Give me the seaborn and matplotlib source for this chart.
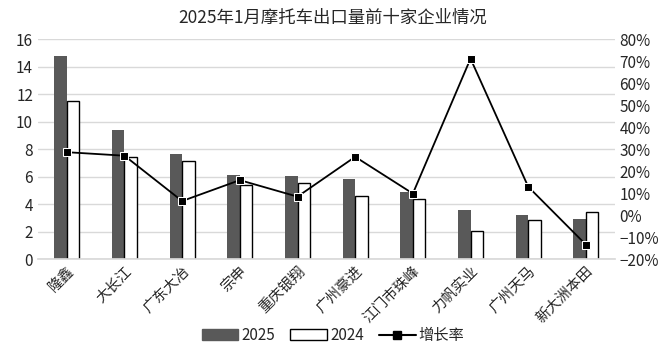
import matplotlib
matplotlib.use("Agg")
import matplotlib.pyplot as plt
from matplotlib.lines import Line2D
from matplotlib.patches import Patch
from matplotlib.ticker import PercentFormatter
import numpy as np
import pandas as pd
import seaborn as sns

# Datos
empresas = ["隆鑫", "大长江", "广东大冶", "宗申", "重庆银翔",
            "广州豪进", "江门市珠峰", "力帆实业", "广州天马", "新大洲本田"]
ventas_2025 = [14.75, 9.42, 7.61, 6.14, 6.01, 5.80, 4.86, 3.55, 3.21, 2.95]
ventas_2024 = [11.52, 7.46, 7.15, 5.36, 5.56, 4.61, 4.40, 2.08, 2.87, 3.45]
crecimiento = [28.6, 27.0, 6.4, 15.9, 8.4, 26.5, 9.8, 71.1, 12.9, -13.4]
series = ["2025", "2024"]

sns.set_theme(style="white")
plt.rcParams["font.family"] = ["Noto Sans CJK SC", "DejaVu Sans"]

df = pd.DataFrame({
    "empresa": empresas * 2,
    "valor": ventas_2025 + ventas_2024,
    "serie": [series[0]] * 10 + [series[1]] * 10,
})

fig = plt.figure(figsize=(6.66, 3.55), dpi=100)
ax = fig.add_axes([0.057, 0.270, 0.866, 0.620])

sns.barplot(data=df, x="empresa", y="valor", hue="serie", hue_order=series,
            palette={"2025": "#595959", "2024": "white"}, width=0.43,
            saturation=1, ax=ax, legend=False)
for barra, serie in zip(ax.patches, [series[0]] * 10 + [series[1]] * 10):
    if serie == "2024":
        barra.set_edgecolor("black")
        barra.set_linewidth(1)
    else:
        barra.set_edgecolor("#595959")
        barra.set_linewidth(0)

ax.set_ylim(0, 16)
ax.set_yticks(range(0, 17, 2))
ax.set_xlim(-0.5, 9.5)
ax.yaxis.grid(True, color="#d9d9d9", linewidth=1)
ax.set_axisbelow(True)
for lado in ["top", "right", "left"]:
    ax.spines[lado].set_visible(False)
ax.spines["bottom"].set_color("#d9d9d9")
ax.tick_params(axis="both", length=0, labelsize=11)
ax.set_xlabel("")
ax.set_ylabel("")
plt.setp(ax.get_xticklabels(), rotation=45, ha="right",
         rotation_mode="anchor", fontsize=10.5)

# Eje secundario para la tasa de crecimiento
ax2 = ax.twinx()
sns.lineplot(x=np.arange(len(empresas)), y=crecimiento, color="black",
             marker="s", markersize=6, linewidth=1.3, ax=ax2)
ax2.set_ylim(-20, 80)
ax2.set_yticks(range(-20, 81, 10))
ax2.yaxis.set_major_formatter(PercentFormatter(decimals=0))
ax2.tick_params(axis="y", length=0, labelsize=11)
for lado in ["top", "right", "left", "bottom"]:
    ax2.spines[lado].set_visible(False)

fig.suptitle("2025年1月摩托车出口量前十家企业情况", fontsize=12.5,
             fontweight="medium", y=0.975)

manijas = [
    Patch(facecolor="#595959", edgecolor="#595959", label="2025"),
    Patch(facecolor="white", edgecolor="black", label="2024"),
    Line2D([0], [0], color="black", marker="s", markersize=6, label="增长率"),
]
fig.legend(handles=manijas, loc="center", bbox_to_anchor=(0.5, 0.055),
           ncol=3, frameon=False, fontsize=11, handlelength=2.4,
           columnspacing=1.0, handletextpad=0.2)

fig.savefig("out.png", dpi=100)
